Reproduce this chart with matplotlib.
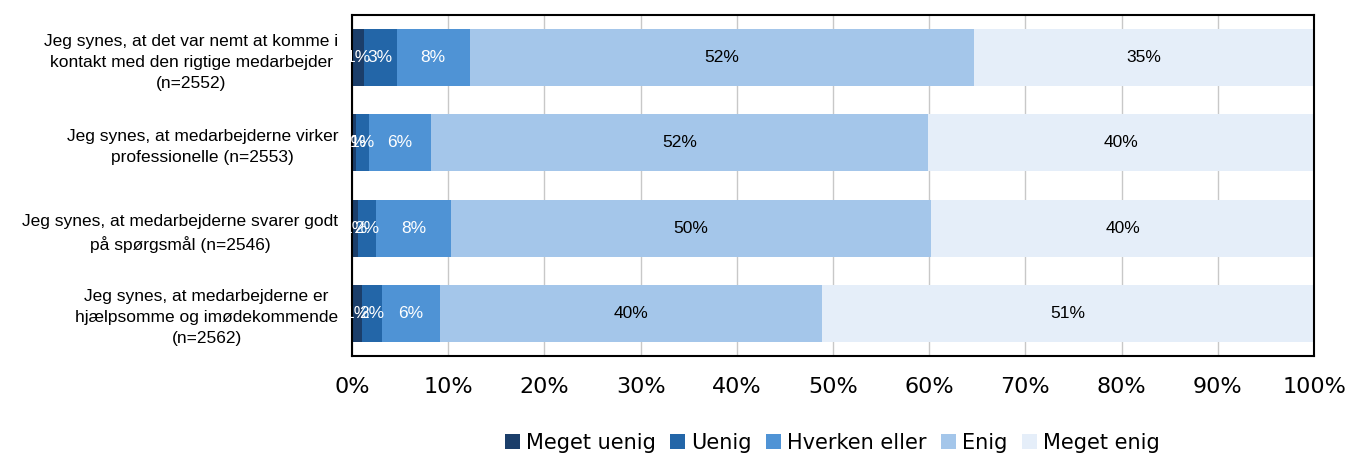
import matplotlib
matplotlib.use("Agg")
import matplotlib.pyplot as plt
import numpy as np

categories = [
    "Jeg synes, at det var nemt at komme i\nkontakt med den rigtige medarbejder\n(n=2552)",
    "Jeg synes, at medarbejderne virker\nprofessionelle (n=2553)",
    "Jeg synes, at medarbejderne svarer godt\npå spørgsmål (n=2546)",
    "Jeg synes, at medarbejderne er\nhjælpsomme og imødekommende\n(n=2562)",
]
series_names = ["Meget uenig", "Uenig", "Hverken eller", "Enig", "Meget enig"]
meget_uenig = [1.25, 0.4, 0.6, 1.0]
uenig = [3.4, 1.4, 1.9, 2.1]
hverken = [7.6, 6.4, 7.8, 6.0]
enig = [52.4, 51.7, 49.9, 39.8]
meget_enig = [35.35, 40.1, 39.8, 51.1]
colors = ["#1b3e6a", "#2366a8", "#4f93d5", "#a4c6ea", "#e5eef9"]
text_colors = ["white", "white", "white", "black", "black"]
xticks = [0, 10, 20, 30, 40, 50, 60, 70, 80, 90, 100]

series = [meget_uenig, uenig, hverken, enig, meget_enig]

fig = plt.figure(figsize=(13.49, 4.55), dpi=100)
ax = fig.add_axes([352/1349, 1-356/455, (1314-352)/1349, (356-15)/455])

y = np.arange(len(categories))
left = np.zeros(len(categories))
for name, vals, c, tc in zip(series_names, series, colors, text_colors):
    vals = np.array(vals)
    ax.barh(y, vals, left=left, height=0.67, color=c, label=name, zorder=2)
    for yi, l, v in zip(y, left, vals):
        ax.text(l + v/2, yi, f"{v:.0f}%", ha="center", va="center",
                color=tc, fontsize=12.5, family="Liberation Sans", zorder=3)
    left += vals

ax.set_xlim(0, 100)
ax.set_ylim(3.5, -0.5)
ax.set_xticks(xticks)
ax.set_xticklabels([f"{t}%" for t in xticks], fontsize=16, family="DejaVu Sans")
ax.set_yticks(y)
ax.set_yticklabels(categories, fontsize=12.5, family="Liberation Sans",
                   multialignment="center", linespacing=1.5)
ax.tick_params(axis="y", length=0, pad=10)
ax.tick_params(axis="x", length=0, pad=15)
ax.grid(axis="x", color="#c8c8c8", linewidth=1, zorder=0)
ax.set_axisbelow(True)
for s in ax.spines.values():
    s.set_color("black")
    s.set_linewidth(1.5)

fig.legend(loc="center", bbox_to_anchor=(0.617, 1-443/455), ncol=5, frameon=False,
           prop={"family": "DejaVu Sans", "size": 15},
           handlelength=0.7, handleheight=0.7, handletextpad=0.3, columnspacing=0.7)

fig.savefig("out.png", dpi=100)
